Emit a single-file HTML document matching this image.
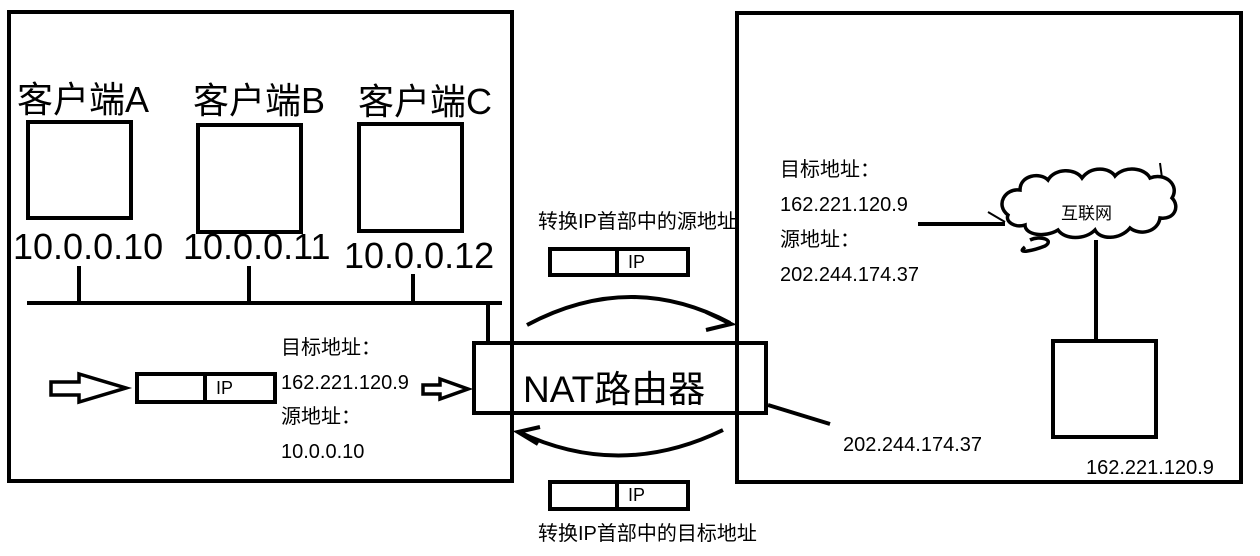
<!DOCTYPE html>
<html><head><meta charset="utf-8"><style>
body{margin:0;background:#fff}
svg text{font-family:"Liberation Sans","Noto Sans CJK SC",sans-serif;fill:#000}
</style></head><body>
<svg width="1260" height="551" viewBox="0 0 1260 551" xmlns="http://www.w3.org/2000/svg">
<g fill="none" stroke="#000" stroke-width="4">
<rect x="9" y="12" width="503" height="469"/>
<rect x="737" y="13" width="504" height="469"/>
<rect x="474" y="343" width="292" height="70"/>
<rect x="28" y="122" width="103" height="96"/>
<rect x="198" y="125" width="103" height="107"/>
<rect x="359" y="124" width="103" height="107"/>
<line x1="27" y1="303" x2="502" y2="303"/>
<line x1="79" y1="266" x2="79" y2="303"/>
<line x1="249" y1="266" x2="249" y2="303"/>
<line x1="413" y1="274" x2="413" y2="303"/>
<line x1="488" y1="301" x2="488" y2="343"/>
<rect x="137" y="374" width="138" height="28"/>
<line x1="205" y1="374" x2="205" y2="402"/>
<rect x="550" y="249" width="138" height="26"/>
<line x1="617" y1="249" x2="617" y2="275"/>
<rect x="550" y="482" width="138" height="27"/>
<line x1="617" y1="482" x2="617" y2="509"/>
<path d="M51,382 H79 V374 L126,388 L79,402 V395 H51 Z" stroke-width="3.5"/>
<path d="M423,385 H440 V379 L468,389 L440,399 V394 H423 Z" stroke-width="3.5"/>
<path d="M527,325 Q630,270 730,323"/>
<path d="M706,312 L731,324 L706,330"/>
<path d="M723,430 Q620,480 519,432"/>
<path d="M540,427 L518,432 L538,444"/>
<line x1="768" y1="405" x2="830" y2="424"/>
<line x1="918" y1="224" x2="1005" y2="224"/>
<line x1="1096" y1="240" x2="1096" y2="340"/>
<rect x="1053" y="341" width="103" height="96"/>
<path d="M1008,215 C995,205 1005,188 1020,190 C1020,175 1040,172 1048,180 C1055,168 1075,168 1082,178 C1092,165 1110,168 1115,176 C1125,165 1145,168 1150,178 C1165,172 1180,185 1172,198 C1180,206 1175,220 1160,218 C1158,232 1140,236 1130,228 C1120,240 1100,240 1095,230 C1085,240 1065,240 1058,230 C1045,238 1025,235 1025,225 C1015,228 1005,222 1008,215 Z" stroke-width="3.5"/>
<path d="M1030,240 C1040,235 1055,240 1045,246 C1035,250 1015,255 1025,247" stroke-width="3.5"/>
<line x1="1160" y1="163" x2="1162" y2="178" stroke-width="2"/>
<line x1="988" y1="212" x2="1005" y2="222" stroke-width="2"/>
</g>
<text x="17" y="112" font-size="36">客户端A</text>
<text x="193" y="113" font-size="36">客户端B</text>
<text x="358" y="114" font-size="36">客户端C</text>
<text x="13" y="259" font-size="36">10.0.0.10</text>
<text x="183" y="259" font-size="36">10.0.0.11</text>
<text x="344" y="268" font-size="36">10.0.0.12</text>
<text x="523" y="402" font-size="37">NAT路由器</text>
<text x="216" y="394" font-size="18">IP</text>
<text x="628" y="268" font-size="18">IP</text>
<text x="628" y="501" font-size="18">IP</text>
<text x="281" y="354" font-size="20">目标地址：</text>
<text x="281" y="389" font-size="20">162.221.120.9</text>
<text x="281" y="423" font-size="20">源地址：</text>
<text x="281" y="458" font-size="20">10.0.0.10</text>
<text x="780" y="176" font-size="20">目标地址：</text>
<text x="780" y="211" font-size="20">162.221.120.9</text>
<text x="780" y="246" font-size="20">源地址：</text>
<text x="780" y="281" font-size="20">202.244.174.37</text>
<text x="538" y="228" font-size="20">转换IP首部中的源地址</text>
<text x="538" y="540" font-size="20">转换IP首部中的目标地址</text>
<text x="843" y="451" font-size="20">202.244.174.37</text>
<text x="1086" y="474" font-size="20">162.221.120.9</text>
<text x="1061" y="219" font-size="17">互联网</text>
</svg>
</body></html>
